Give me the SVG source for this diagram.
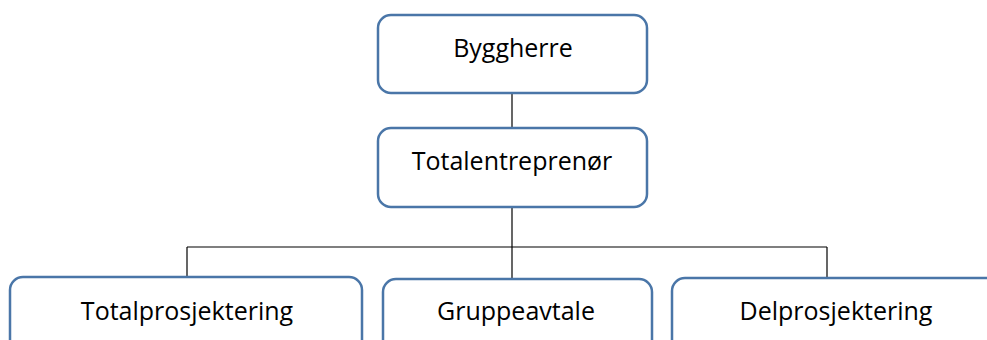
<svg xmlns="http://www.w3.org/2000/svg" width="987" height="340" viewBox="0 0 987 340">
  <style>
    .box { fill: #ffffff; stroke: #4a76a8; stroke-width: 2.5; }
    .label { font-family: "Open Sans", "Liberation Sans", Arial, sans-serif; font-size: 25px; fill: #000000; text-anchor: middle; }
    .conn { fill: none; stroke: #000000; stroke-width: 1.2; }
  </style>
  <rect width="987" height="340" fill="#ffffff"/>

  <!-- connectors -->
  <g id="connectors">
    <line class="conn" x1="512" y1="93" x2="512" y2="128"/>
    <line class="conn" x1="512" y1="207" x2="512" y2="279"/>
    <line class="conn" x1="187" y1="247" x2="827" y2="247"/>
    <line class="conn" x1="187" y1="247" x2="187" y2="277"/>
    <line class="conn" x1="827" y1="247" x2="827" y2="278"/>
  </g>

  <g id="byggherre">
    <rect class="box" x="378" y="15" width="269" height="78" rx="13"/>
    <text class="label" x="513" y="57">Byggherre</text>
  </g>

  <g id="totalentreprenor">
    <rect class="box" x="378" y="128" width="269" height="79" rx="13"/>
    <text class="label" x="512" y="170">Totalentreprenør</text>
  </g>

  <g id="totalprosjektering">
    <rect class="box" x="10" y="277" width="352" height="80" rx="13"/>
    <text class="label" x="187" y="320">Totalprosjektering</text>
  </g>

  <g id="gruppeavtale">
    <rect class="box" x="383" y="279" width="269" height="80" rx="13"/>
    <text class="label" x="516" y="320">Gruppeavtale</text>
  </g>

  <g id="delprosjektering">
    <rect class="box" x="672" y="278" width="340" height="80" rx="13"/>
    <text class="label" x="836" y="320">Delprosjektering</text>
  </g>
</svg>
